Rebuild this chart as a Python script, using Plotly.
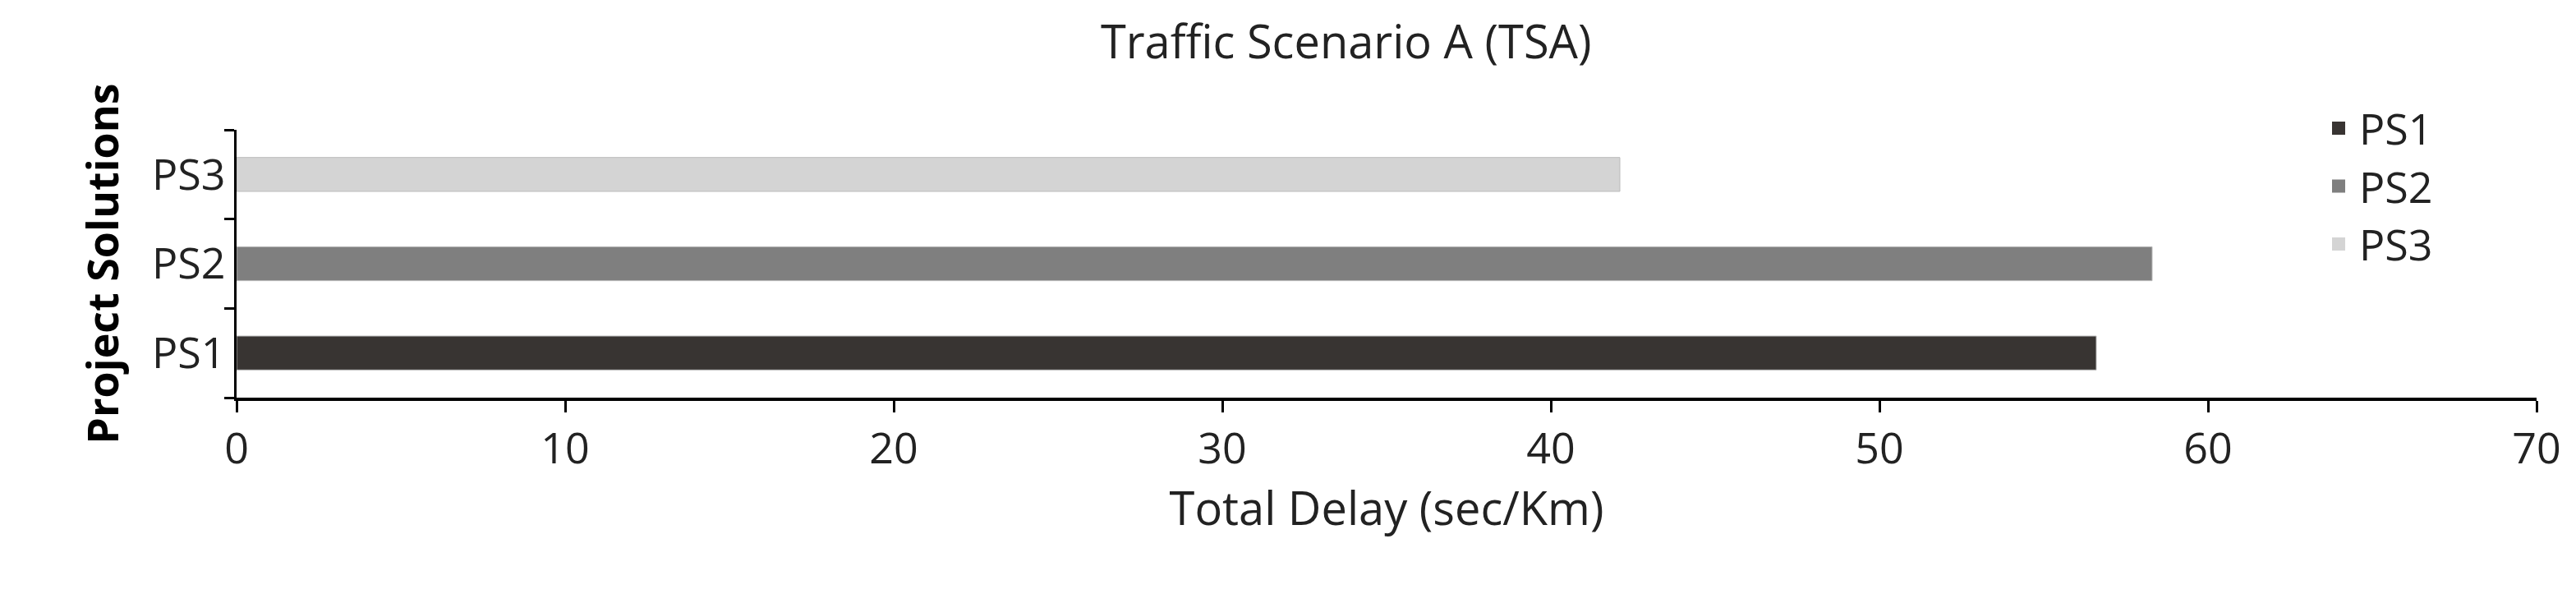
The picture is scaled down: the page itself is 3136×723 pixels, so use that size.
import plotly.graph_objects as go

categories = ["PS1", "PS2", "PS3"]
values = [56.6, 58.3, 42.1]
colors = ["#383432", "#7f7f7f", "#d4d4d4"]
x_ticks = [0, 10, 20, 30, 40, 50, 60, 70]

fig = go.Figure()
for c, v, col in zip(categories, values, colors):
    fig.add_trace(go.Bar(y=[c], x=[v], orientation="h", name=c, width=0.38, showlegend=False,
                         marker=dict(color=col, line=dict(color="#bbbbbb", width=1))))
for c, col in zip(categories, colors):
    fig.add_trace(go.Scatter(x=[None], y=[None], mode="markers", name=c,
                             marker=dict(symbol="square", size=40, color=col)))

fnt = "Open Sans, DejaVu Sans, sans-serif"
fig.update_layout(
    width=3136, height=723, paper_bgcolor="white", plot_bgcolor="white",
    margin=dict(l=280, r=56, t=150, b=247),
    barmode="overlay",
    font=dict(family=fnt, size=52, color="#222"),
    title=dict(text="Traffic Scenario A (TSA)", x=0.52, xanchor="center", y=0.94, yanchor="middle",
               font=dict(size=56, color="#222")),
    showlegend=True,
    legend=dict(x=0.905, y=1.13, xanchor="left", yanchor="top", traceorder="normal",
                font=dict(size=52), itemwidth=40, tracegroupgap=30),
    xaxis=dict(range=[0, 70], tickvals=x_ticks, showgrid=False, zeroline=False,
               showline=True, linecolor="black", linewidth=4, ticks="outside",
               tickcolor="black", ticklen=14, tickwidth=3,
               title=dict(text="Total Delay (sec/Km)", font=dict(size=56), standoff=20)),
    yaxis=dict(categoryorder="array", categoryarray=categories, showgrid=False,
               showline=True, linecolor="black", linewidth=3, ticks="outside",
               tickson="boundaries", ticklen=12, tickcolor="black", tickwidth=3,
               title=dict(text="<b>Project Solutions</b>", font=dict(size=52, color="black"), standoff=24)),
)
fig.write_html("out.html")
